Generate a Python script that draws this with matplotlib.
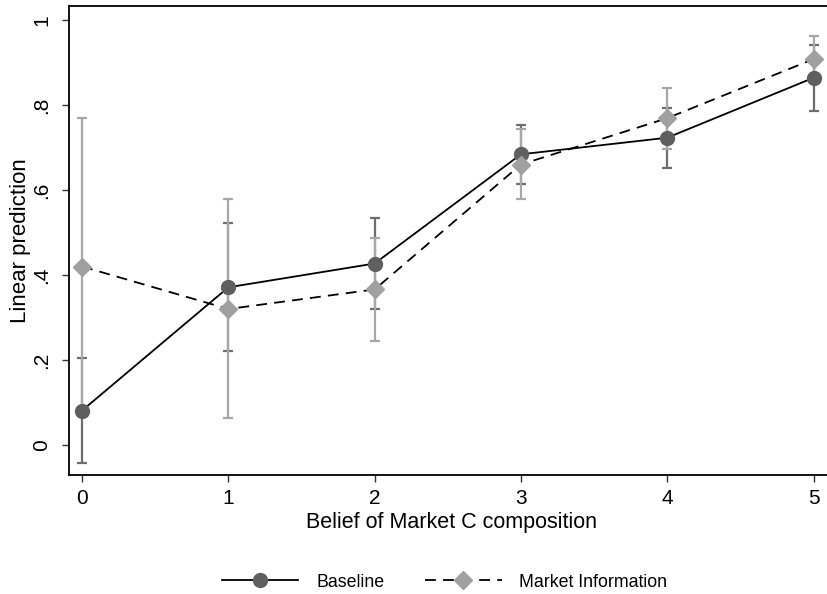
import matplotlib
matplotlib.use("Agg")
import matplotlib.pyplot as plt
import numpy as np

plt.rcParams['font.family'] = ['Liberation Sans', 'DejaVu Sans']

x = [0, 1, 2, 3, 4, 5]
base_mean = [0.081, 0.371, 0.427, 0.684, 0.723, 0.864]
base_lo = [-0.042, 0.222, 0.320, 0.613, 0.652, 0.787]
base_hi = [0.204, 0.522, 0.534, 0.753, 0.792, 0.941]
mi_mean = [0.420, 0.320, 0.366, 0.660, 0.769, 0.908]
mi_lo = [0.071, 0.063, 0.245, 0.578, 0.696, 0.853]
mi_hi = [0.769, 0.580, 0.486, 0.744, 0.841, 0.962]

yticks = [0, 0.2, 0.4, 0.6, 0.8, 1.0]
yticklabels = ['0', '.2', '.4', '.6', '.8', '1']

fig = plt.figure(figsize=(8.28, 5.94), dpi=100)
ax = fig.add_axes([69/828, 1-475/594, 766/828, (475-6)/594])

dark = '#5f5f5f'
light = '#a0a0a0'
dark_err = '#6e6e6e'
light_err = '#a8a8a8'

bm = np.array(base_mean); mm = np.array(mi_mean)
ax.errorbar(x, bm, yerr=[bm-np.array(base_lo), np.array(base_hi)-bm], fmt='none',
            ecolor=dark_err, elinewidth=1.6, capsize=3.5, capthick=1.6, zorder=2)
ax.errorbar(x, mm, yerr=[mm-np.array(mi_lo), np.array(mi_hi)-mm], fmt='none',
            ecolor=light_err, elinewidth=1.6, capsize=3.5, capthick=1.6, zorder=2)
ax.plot(x, base_mean, '-', color='black', lw=1.3, marker='o', ms=10,
        mfc=dark, mec=dark, label='Baseline', zorder=3)
ax.plot(x, mi_mean, '--', color='black', lw=1.3, dashes=(6, 4), marker='D', ms=9,
        mfc=light, mec=light, label='Market Information', zorder=4)

ax.set_xlim(-0.089, -0.089 + 766/146.3)
ax.set_ylim((445-475)/425, (445-6)/425)
ax.set_xticks(x)
ax.set_xticklabels([str(v) for v in x], fontsize=15)
ax.set_yticks(yticks)
ax.set_yticklabels(yticklabels, fontsize=15, rotation=90, va='center')
ax.tick_params(axis='y', length=5, width=1, color='#333333', pad=8)
ax.tick_params(axis='x', length=5, width=1, color='#333333', pad=5)
ax.spines['right'].set_visible(False)
for s in ['left', 'bottom', 'top']:
    ax.spines[s].set_linewidth(1.3)
ax.set_xlabel('Belief of Market C composition', fontsize=15.5, labelpad=3)
ax.set_ylabel('Linear prediction', fontsize=16, labelpad=1)

fig.legend(loc='center', bbox_to_anchor=(0.537, 0.02), ncol=2, frameon=False,
           fontsize=12.8, handlelength=4.3, columnspacing=2.3, handletextpad=1.0)

fig.savefig('out.png', dpi=100)
